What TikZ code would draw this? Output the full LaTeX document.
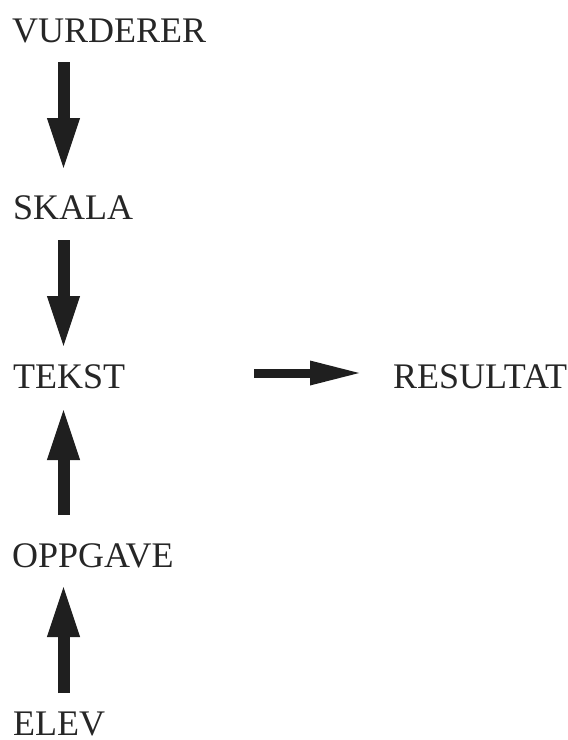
\documentclass[tikz,border=0pt]{standalone}
\usepackage{fontspec}
\setmainfont{Liberation Serif}
\usetikzlibrary{arrows.meta}
\begin{document}
\begin{tikzpicture}[x=1pt,y=-1pt,
  lbl/.style={anchor=base west,inner sep=0pt,font=\fontsize{36}{40}\selectfont,text=black!85},
  bigarrow/.style={draw=black!88,line width=12pt,-{Triangle[length=54pt,width=29pt]}},
  sidearrow/.style={draw=black!88,line width=9pt,-{Triangle[length=53pt,width=22pt]}}]
\useasboundingbox (0,0) rectangle (568,740);
\node[lbl] (vurderer) at (12,42) {VURDERER};
\node[lbl] (skala) at (13,219) {SKALA};
\node[lbl] (tekst) at (13,388) {TEKST};
\node[lbl] (oppgave) at (12,567) {OPPGAVE};
\node[lbl] (elev) at (13,735.5) {ELEV};
\node[lbl] (resultat) at (393,388) {RESULTAT};
\coordinate (a1s) at (63.5,62);
\coordinate (a1e) at (63.5,172);
\coordinate (a2s) at (63.5,240);
\coordinate (a2e) at (63.5,350);
\coordinate (a3s) at (63.5,515);
\coordinate (a3e) at (63.5,406);
\coordinate (a4s) at (63.5,693);
\coordinate (a4e) at (63.5,583);
\coordinate (a5s) at (254,373);
\coordinate (a5e) at (363,373);
\draw[bigarrow] (a1s) -- (a1e);
\draw[bigarrow] (a2s) -- (a2e);
\draw[bigarrow] (a3s) -- (a3e);
\draw[bigarrow] (a4s) -- (a4e);
\draw[sidearrow] (a5s) -- (a5e);
\end{tikzpicture}
\end{document}
